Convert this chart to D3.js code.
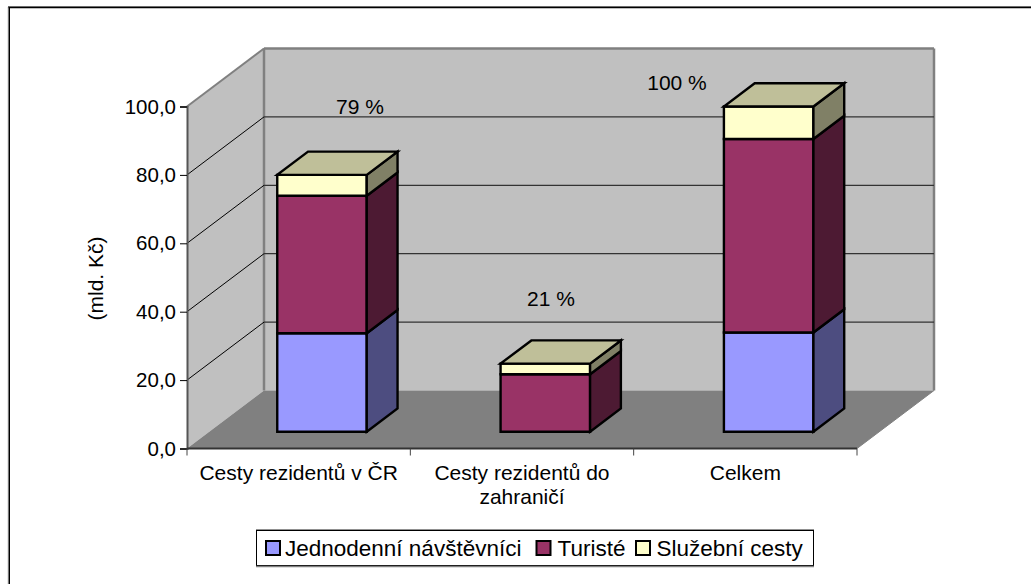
<!DOCTYPE html>
<html><head><meta charset="utf-8">
<script src="https://cdn.jsdelivr.net/npm/d3@7"></script>
<style>html,body{margin:0;padding:0;background:#fff}svg{display:block}text{font-family:"Liberation Sans",Arial,sans-serif;fill:#000}</style>
</head><body><svg id="c" width="1031" height="584"></svg>
<script>
const categories = [["Cesty rezidentů v ČR"], ["Cesty rezidentů do","zahraničí"], ["Celkem"]];
const seriesNames = ["Jednodenní návštěvníci", "Turisté", "Služební cesty"];
const dayVisitors = [28.8, 0, 29.0];
const tourists = [40.2, 16.8, 56.6];
const businessTrips = [6.1, 3.1, 9.5];
const shareLabels = ["79 %", "21 %", "100 %"];
const yTicks = [0, 20, 40, 60, 80, 100];
const fills = ["#9999ff", "#993366", "#ffffcc"];
const sides = ["#4d4d80", "#4d1a33", "#808066"];
const topFill = "#bfbf99";

const svg = d3.select("#c");
const y = d3.scaleLinear().domain([0, 100]).range([448.5, 106.5]);
const x = d3.scaleBand().domain(d3.range(categories.length)).range([187, 857]);
const depth = d3.scaleLinear().domain([0, 1]).range([0, 77]);
const rise = d3.scaleLinear().domain([0, 1]).range([0, -58]);
const P = (px, py, d) => [px + depth(d), py + rise(d)];
const poly = (pts, fill, stroke, sw) => svg.append("path")
  .attr("d", "M" + pts.map(p => p.join(",")).join("L") + "Z")
  .attr("fill", fill).attr("stroke", stroke || "none").attr("stroke-width", sw || 0)
  .attr("stroke-linejoin", "miter");
const gl = (a, b, c, w) => svg.append("line").attr("x1",a[0]).attr("y1",a[1]).attr("x2",b[0]).attr("y2",b[1])
  .attr("stroke", c).attr("stroke-width", w);

// chart frame: only top and left edges fall inside the picture
gl([8,6.5],[1031,6.5],"#909090",1);
gl([8,7.5],[1031,7.5],"#000",1.4);
gl([8.2,7],[8.2,584],"#b0b0b0",1);
gl([9.3,7],[9.3,584],"#000",1.4);

const x0 = 187, x1 = 857, yB = y(0), yT = y(100);
// walls
poly([P(x0,yB,0),P(x0,yB,1),P(x0,yT,1),P(x0,yT,0)], "#c0c0c0");
poly([P(x0,yB,1),P(x1,yB,1),P(x1,yT,1),P(x0,yT,1)], "#c0c0c0");
poly([P(x0,yB,0),P(x1,yB,0),P(x1,yB,1),P(x0,yB,1)], "#808080");
// wall outlines
gl(P(x0,yT,0),P(x0,yT,1),"#808080",2);
gl(P(x0,yT,1),P(x1,yT,1),"#808080",2.5);
gl(P(x0,yT,1),P(x0,yB,1),"#808080",2.5);
gl(P(x1,yT,1),P(x1,yB,1),"#808080",2.5);
gl(P(x1,yB,0),P(x1,yB,1),"#808080",1);
// gridlines
yTicks.slice(1,-1).forEach(t => {
  gl(P(x0,y(t),0),P(x0,y(t),1),"#000",1);
  gl(P(x0,y(t),1),P(x1,y(t),1),"#333",1.2);
});
// axes
const yAxis = d3.axisLeft(y).tickValues(yTicks).tickSize(7).tickPadding(4).tickFormat(d => d3.format(".1f")(d).replace(".", ","));
const gy = svg.append("g").attr("transform", `translate(${x0},0)`).call(yAxis);
gy.select(".domain").attr("stroke", "#555").attr("stroke-width", 2);
gy.selectAll("text").attr("font-size", 20.5);
const xEdges = d3.range(categories.length + 1).map(i => i < categories.length ? x(i) : x1);
svg.append("line").attr("x1",x0).attr("x2",x1).attr("y1",yB).attr("y2",yB).attr("stroke","#333").attr("stroke-width",2);
xEdges.forEach(e => gl([e,yB],[e,yB+7],"#444",1));
// bars
const barW = 89.5, dNear = 0.29, dFar = 0.69, nudge = 1;
categories.forEach((c, i) => {
  const left = x(i) + (x.bandwidth() - barW) / 2 + nudge, right = left + barW;
  let cum = 0;
  const segs = [dayVisitors[i], tourists[i], businessTrips[i]];
  segs.forEach((v, s) => {
    if (v <= 0) { return; }
    const a = y(cum), b = y(cum + v);
    cum += v;
    poly([P(left,a,dNear),P(right,a,dNear),P(right,b,dNear),P(left,b,dNear)], fills[s], "#000", 2.4);
    poly([P(right,a,dNear),P(right,a,dFar),P(right,b,dFar),P(right,b,dNear)], sides[s], "#000", 2.4);
  });
  const t = y(cum);
  poly([P(left,t,dNear),P(right,t,dNear),P(right,t,dFar),P(left,t,dFar)], topFill, "#000", 2.4);
});
// labels
const fs = 21;
const catG = svg.append("g");
categories.forEach((lines, i) => lines.forEach((l, k) => catG.append("text")
  .attr("x", x(i) + x.bandwidth()/2).attr("y", 480 + k*23.5).attr("text-anchor","middle").attr("font-size",fs).text(l)));
const shareX = [360, 551, 677], shareY = [114, 306, 90];
shareLabels.forEach((l,i) => svg.append("text").attr("x",shareX[i]).attr("y",shareY[i]).attr("text-anchor","middle").attr("font-size",fs).text(l));
svg.append("text").attr("transform","translate(103,278.5) rotate(-90)").attr("text-anchor","middle").attr("font-size",fs).text("(mld. Kč)");
// legend
svg.append("line").attr("x1",256).attr("x2",814).attr("y1",529.5).attr("y2",529.5).attr("stroke","#909090").attr("stroke-width",1);
svg.append("rect").attr("x",256.5).attr("y",530.5).attr("width",557).attr("height",35).attr("fill","#fff").attr("stroke","#000");
svg.append("line").attr("x1",256).attr("x2",814).attr("y1",566.5).attr("y2",566.5).attr("stroke","#808080").attr("stroke-width",1.5);
const legX = [266, 536.5, 636];
const legText = [285, 557.5, 656.5];
seriesNames.forEach((n,i) => {
  svg.append("rect").attr("x",legX[i]).attr("y",541).attr("width",14).attr("height",14).attr("fill",fills[i]).attr("stroke","#000").attr("stroke-width",2);
  svg.append("text").attr("x",legText[i]).attr("y",556).attr("font-size",22.5).text(n);
});
</script></body></html>
